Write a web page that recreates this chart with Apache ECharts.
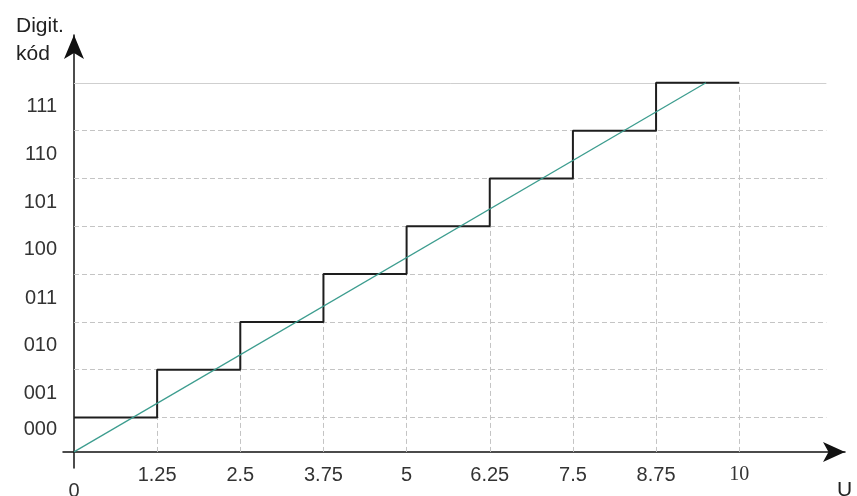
<!DOCTYPE html>
<html>
<head>
<meta charset="utf-8">
<script src="https://cdn.jsdelivr.net/npm/echarts@6/dist/echarts.min.js"></script>
<style>
  html, body { margin: 0; padding: 0; background: #fff; }
  #chart { width: 857px; height: 496px; }
</style>
</head>
<body>
<div id="chart"></div>
<script>
  // x ticks (napětí) a kódové úrovně
  var xTicks = [1.25, 2.5, 3.75, 5, 6.25, 7.5, 8.75, 10];
  var codes = ['000', '001', '010', '011', '100', '101', '110', '111'];
  var levels = [0.9, 2.15, 3.4, 4.65, 5.9, 7.15, 8.4, 9.65];
  var codeLabelAt = [0.58, 1.52, 2.78, 4.02, 5.28, 6.52, 7.78, 9.02];
  var stepX = [0, 1.25, 2.5, 3.75, 5, 6.25, 7.5, 8.75, 10];
  var diagonal = [[0, 0], [9.5, 9.65]];
  var gridEnd = 11.31;

  var chart = echarts.init(document.getElementById('chart'));

  var stepData = stepX.map(function (x, i) {
    return [x, levels[Math.min(i, levels.length - 1)]];
  });

  var hLines = levels.map(function (y, i) {
    var last = i === levels.length - 1;
    return [
      { coord: [0, y], lineStyle: { type: last ? 'solid' : [5, 3], color: last ? '#cfcfcf' : '#c4c4c4' } },
      { coord: [gridEnd, y] }
    ];
  });
  var vLines = xTicks.map(function (x, i) {
    return [{ coord: [x, 0] }, { coord: [x, levels[i]] }];
  });

  var labelFont = '"Liberation Sans", Arial, sans-serif';

  chart.setOption({
    animation: false,
    title: {
      text: 'Digit.\nkód',
      left: 11,
      top: 7,
      textStyle: {
        fontSize: 21,
        fontWeight: 'normal',
        color: '#222',
        lineHeight: 28,
        fontFamily: labelFont
      }
    },
    grid: { left: 63, right: 12, top: 35, bottom: 28, outerBoundsMode: 'none', containLabel: false },
    xAxis: {
      type: 'value',
      min: -0.165,
      max: 11.59,
      name: 'U',
      nameLocation: 'end',
      nameGap: -8,
      nameTextStyle: {
        align: 'left', verticalAlign: 'top', padding: [28, 0, 0, 0],
        fontSize: 21, color: '#222', fontFamily: labelFont
      },
      splitLine: { show: false },
      axisTick: { show: false },
      axisLine: {
        onZero: true,
        symbol: ['none', 'arrow'],
        symbolSize: [15, 22],
        lineStyle: { color: '#111', width: 1.5 }
      },
      axisLabel: {
        customValues: [0].concat(xTicks),
        margin: -3,
        fontSize: 20,
        color: '#333',
        fontFamily: labelFont,
        formatter: function (v) {
          if (v === 0) return '{z|0}';
          if (v === 10) return '{s|10}';
          return String(v);
        },
        rich: {
          z: { fontSize: 20, color: '#333', fontFamily: labelFont, padding: [16, 0, 0, 0] },
          s: { fontSize: 20, color: '#333', fontFamily: '"Liberation Serif", serif' }
        }
      }
    },
    yAxis: {
      type: 'value',
      min: -0.42,
      max: 10.9,
      splitLine: { show: false },
      axisTick: { show: false },
      axisLine: {
        onZero: true,
        symbol: ['none', 'arrow'],
        symbolSize: [15, 24],
        lineStyle: { color: '#111', width: 1.5 }
      },
      axisLabel: {
        customValues: codeLabelAt,
        margin: 6,
        fontSize: 20,
        color: '#333',
        fontFamily: labelFont,
        formatter: function (v) {
          var i = codeLabelAt.indexOf(v);
          return i >= 0 ? codes[i] : '';
        }
      }
    },
    series: [
      {
        type: 'line',
        data: [],
        silent: true,
        z: 1,
        markLine: {
          silent: true,
          z: 1,
          symbol: ['none', 'none'],
          label: { show: false },
          lineStyle: { color: '#c4c4c4', type: [5, 3], width: 1 },
          data: hLines.concat(vLines)
        }
      },
      {
        name: 'kvantizace',
        type: 'line',
        step: 'end',
        z: 10,
        data: stepData,
        showSymbol: false,
        lineStyle: { color: '#1e1e1e', width: 2 }
      },
      {
        name: 'ideal',
        type: 'line',
        z: 11,
        data: diagonal,
        showSymbol: false,
        lineStyle: { color: '#3d9d8f', width: 1.3 }
      }
    ]
  });
</script>
</body>
</html>
